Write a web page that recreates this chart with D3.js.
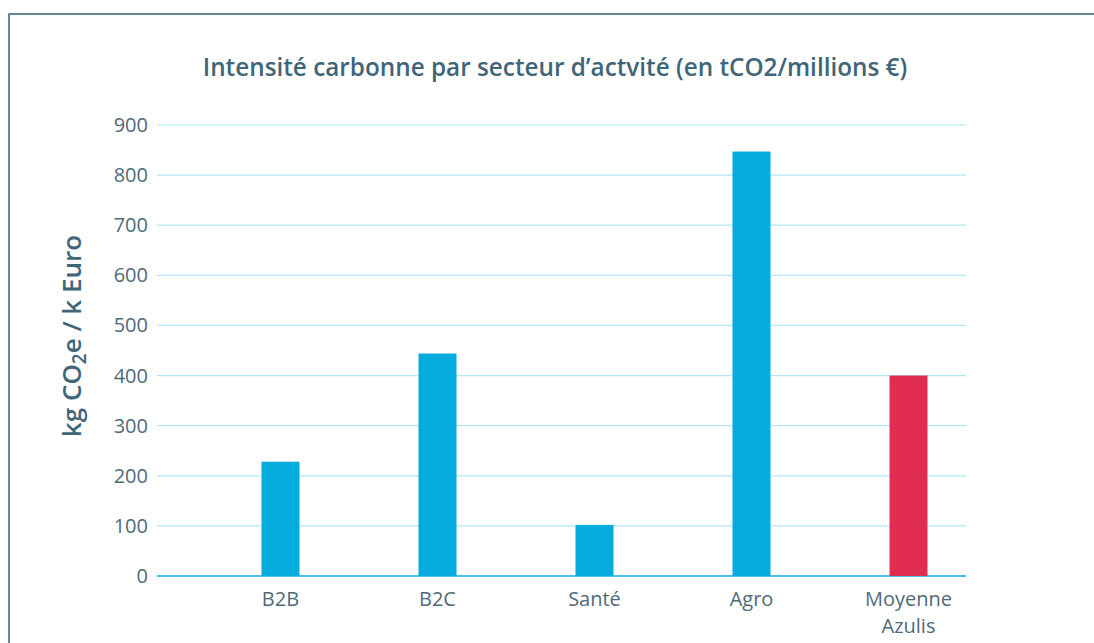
<!DOCTYPE html>
<html>
<head>
<meta charset="utf-8">
<script src="https://cdn.jsdelivr.net/npm/d3@7"></script>
<style>
  body { margin: 0; background: #fff; }
  svg { display: block; font-family: "Open Sans", Lato, sans-serif; }
</style>
</head>
<body>
<svg id="graph" width="1094" height="643"></svg>
<script>
  var svg = d3.select("#graph");

  // data
  var sectors = ["B2B", "B2C", "Santé", "Agro", "Moyenne Azulis"];
  var intensity = [228, 444, 102, 847, 400];
  var barColors = ["#03acdc", "#03acdc", "#03acdc", "#03acdc", "#e22d53"];
  var yTicks = [0, 100, 200, 300, 400, 500, 600, 700, 800, 900];

  var textColor = "#3f6578";

  // outer frame (runs off the right and bottom of the picture)
  svg.append("rect")
    .attr("x", 9).attr("y", 14)
    .attr("width", 1200).attr("height", 800)
    .attr("fill", "none")
    .attr("stroke", "#41687e")
    .attr("stroke-width", 1.6);

  var y = d3.scaleLinear().domain([0, 900]).range([576, 125]);

  var x = d3.scaleBand()
    .domain(sectors)
    .range([202, 987])
    .paddingInner(0.758)
    .paddingOuter(0.379);

  // gridlines
  svg.append("g").selectAll("line").data(yTicks).enter().append("line")
    .attr("x1", 157).attr("x2", 966)
    .attr("y1", function(d) { return y(d); })
    .attr("y2", function(d) { return y(d); })
    .attr("stroke", function(d) { return d == 0 ? "#0aaee0" : "#b2e7f6"; })
    .attr("stroke-width", function(d) { return d == 0 ? 1.5 : 1.2; });

  // y tick labels
  svg.append("g").selectAll("text").data(yTicks).enter().append("text")
    .attr("x", 148)
    .attr("y", function(d) { return y(d) + 7; })
    .attr("text-anchor", "end")
    .attr("fill", "#4f6a78")
    .style("font-size", "20px")
    .text(function(d) { return d; });

  // x labels, wrapped on spaces
  var xl = svg.append("g").selectAll("text").data(sectors).enter().append("text")
    .attr("text-anchor", "middle")
    .attr("fill", "#4f6a78")
    .style("font-size", "20px");
  xl.each(function(d) {
    var words = d.split(" ");
    var t = d3.select(this);
    words.forEach(function(w, k) {
      t.append("tspan")
        .attr("x", x(d) + x.bandwidth() / 2)
        .attr("y", 606 + k * 27)
        .text(w);
    });
  });

  // bars
  svg.append("g").selectAll("rect").data(intensity).enter().append("rect")
    .attr("x", function(d, i) { return x(sectors[i]); })
    .attr("y", function(d) { return y(d); })
    .attr("width", x.bandwidth())
    .attr("height", function(d) { return y(0) - y(d); })
    .attr("fill", function(d, i) { return barColors[i]; });

  // title
  svg.append("text")
    .attr("x", 555).attr("y", 76)
    .attr("text-anchor", "middle")
    .attr("fill", textColor)
    .style("font-size", "24.3px")
    .style("font-weight", 600)
    .text("Intensité carbonne par secteur d’actvité (en tCO2/millions €)");

  // y axis title with subscript
  var yt = svg.append("text")
    .attr("transform", "translate(81,336) rotate(-90)")
    .attr("text-anchor", "middle")
    .attr("fill", textColor)
    .style("font-size", "26px")
    .style("font-weight", 600);
  yt.append("tspan").text("kg CO");
  yt.append("tspan").attr("dy", 5).style("font-size", "19px").text("2");
  yt.append("tspan").attr("dy", -5).text("e / k Euro");
</script>
</body>
</html>
